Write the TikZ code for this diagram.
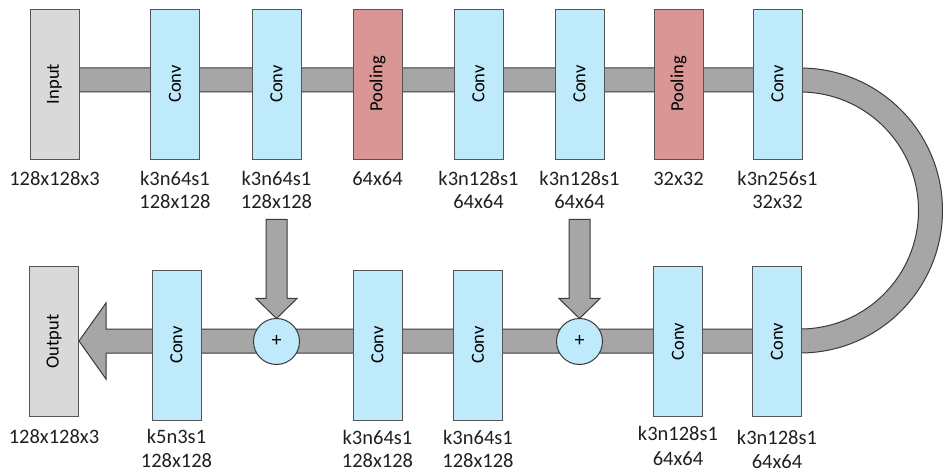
\documentclass[tikz,border=0pt]{standalone}
\usepackage{fontspec}
\setmainfont{Carlito}
\usetikzlibrary{calc}
\definecolor{convblue}{HTML}{BEEAFB}
\definecolor{poolred}{HTML}{D99694}
\definecolor{iogray}{HTML}{D9D9D9}
\definecolor{boxline}{HTML}{555555}
\definecolor{bandgray}{HTML}{A6A6A6}
\definecolor{bandline}{HTML}{3A3A3A}
\definecolor{labeltext}{HTML}{202020}
\begin{document}
\begin{tikzpicture}[x=1pt,y=-1pt,
  box/.style={draw=boxline, line width=0.9pt, minimum width=49pt, minimum height=150pt, inner sep=0pt, outer sep=0pt},
  conv/.style={box, fill=convblue},
  pool/.style={box, fill=poolred},
  io/.style={box, fill=iogray},
  rot/.style={rotate=90, inner sep=0pt, text=black, font=\fontsize{18.5}{20}\selectfont},
  lbl/.style={anchor=base, inner sep=0pt, text=labeltext, font=\fontsize{20.5}{23}\selectfont},
  band/.style={fill=bandgray, draw=bandline, line width=1pt, line join=miter},
  plus/.style={circle, draw=bandline, line width=1pt, fill=convblue, minimum size=46pt, inner sep=0pt, outer sep=0pt, font=\fontsize{20}{20}\selectfont}
]
\useasboundingbox (0,0) rectangle (943,473);
\clip (0,0) rectangle (943,473);

% main band (forward path, U-turn and return with arrowhead)
\draw[band] (79,68) -- (800,68) arc[start angle=-90, end angle=90, radius=142.5]
  -- (106,353) -- (106,379) -- (79,341) -- (106,303) -- (106,329) -- (800,329)
  arc[start angle=90, end angle=-90, radius=118.5] -- (79,92) -- cycle;

% top row
\node[io]   (in) at (54.5,84) {};
\node[conv] (c1) at (175,84) {};
\node[conv] (c2) at (276.5,84) {};
\node[pool] (p1) at (377.5,84) {};
\node[conv] (c3) at (478.5,84) {};
\node[conv] (c4) at (579.5,84) {};
\node[pool] (p2) at (678.5,84) {};
\node[conv] (c5) at (777.5,84) {};

% bottom row
\node[io]   (out) at (54,341.5) {};
\node[conv] (c6) at (176.5,345) {};
\node[conv] (c7) at (377.5,345) {};
\node[conv] (c8) at (478,345) {};
\node[conv] (c9) at (678,341.5) {};
\node[conv] (c10) at (777,341.5) {};

% sum nodes
\coordinate (s1pos) at (276.5,341.5);
\coordinate (s2pos) at (579.5,341.5);
\path (s1pos) node[plus, draw=none, fill=none] (s1) {};
\path (s2pos) node[plus, draw=none, fill=none] (s2) {};

% skip arrows
\foreach \s in {s1,s2}{
  \draw[band] ($(\s.north)+(-10.5,-20)$) -- ($(\s.north)+(-10.5,-99)$) -- ($(\s.north)+(10.5,-99)$)
    -- ($(\s.north)+(10.5,-20)$) -- ($(\s.north)+(20.5,-20)$) -- (\s.north)
    -- ($(\s.north)+(-20.5,-20)$) -- cycle;
}
\node[plus] at (s1) {+};
\node[plus] at (s2) {+};

% box texts
\node[rot] at (in) {Input};
\node[rot] at (c1) {Conv};
\node[rot] at (c2) {Conv};
\node[rot] at (p1) {Pooling};
\node[rot] at (c3) {Conv};
\node[rot] at (c4) {Conv};
\node[rot] at (p2) {Pooling};
\node[rot] at (c5) {Conv};
\node[rot] at (out) {Output};
\node[rot] at (c6) {Conv};
\node[rot] at (c7) {Conv};
\node[rot] at (c8) {Conv};
\node[rot] at (c9) {Conv};
\node[rot] at (c10) {Conv};

% labels top
\node[lbl] (lin) at (in |- 0,186) {128x128x3};
\node[lbl] (l1a) at (c1 |- 0,186) {k3n64s1};
\node[lbl] (l1b) at (c1 |- 0,208.5) {128x128};
\node[lbl] (l2a) at (c2 |- 0,186) {k3n64s1};
\node[lbl] (l2b) at (c2 |- 0,208.5) {128x128};
\node[lbl] (lp1) at (p1 |- 0,186) {64x64};
\node[lbl] (l3a) at (c3 |- 0,186) {k3n128s1};
\node[lbl] (l3b) at (c3 |- 0,208.5) {64x64};
\node[lbl] (l4a) at (c4 |- 0,186) {k3n128s1};
\node[lbl] (l4b) at (c4 |- 0,208.5) {64x64};
\node[lbl] (lp2) at (p2 |- 0,186) {32x32};
\node[lbl] (l5a) at (c5 |- 0,186) {k3n256s1};
\node[lbl] (l5b) at (c5 |- 0,208.5) {32x32};

% labels bottom
\node[lbl] (lout) at (out |- 0,443.5) {128x128x3};
\node[lbl] (l6a) at (c6 |- 0,443.5) {k5n3s1};
\node[lbl] (l6b) at (c6 |- 0,467) {128x128};
\node[lbl] (l7a) at (c7 |- 0,444) {k3n64s1};
\node[lbl] (l7b) at (c7 |- 0,467) {128x128};
\node[lbl] (l8a) at (c8 |- 0,444) {k3n64s1};
\node[lbl] (l8b) at (c8 |- 0,467) {128x128};
\node[lbl] (l9a) at (c9 |- 0,440.5) {k3n128s1};
\node[lbl] (l9b) at (c9 |- 0,465) {64x64};
\node[lbl] (l10a) at (c10 |- 0,444) {k3n128s1};
\node[lbl] (l10b) at (c10 |- 0,468) {64x64};
\end{tikzpicture}
\end{document}
